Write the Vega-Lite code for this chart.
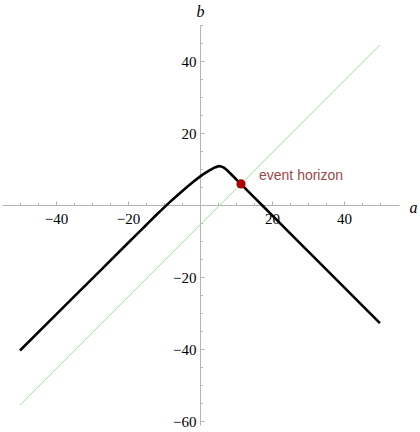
{
  "$schema": "https://vega.github.io/schema/vega-lite/v6.json",
  "autosize": {"type": "none"},
  "padding": {"left": 2, "top": 25, "right": 21, "bottom": 7},
  "width": 397,
  "height": 400,
  "background": "white",
  "config": {
    "view": {"stroke": null},
    "axis": {"grid": false, "domainColor": "#b4b4b4", "tickColor": "#b4b4b4", "domainWidth": 1, "tickWidth": 1}
  },
  "datasets": {
    "curve": [
      {"a": -50, "b": -40.4}, {"a": -40, "b": -30.45}, {"a": -30, "b": -20.5},
      {"a": -20, "b": -10.56}, {"a": -15, "b": -5.61}, {"a": -12, "b": -2.64},
      {"a": -10, "b": -0.72}, {"a": -8, "b": 1.14}, {"a": -6, "b": 2.94},
      {"a": -4, "b": 4.68}, {"a": -2, "b": 6.34}, {"a": 0, "b": 7.9},
      {"a": 1.5, "b": 8.92}, {"a": 3, "b": 9.82}, {"a": 4.3, "b": 10.47},
      {"a": 5.3, "b": 10.8}, {"a": 5.9, "b": 10.72}, {"a": 6.5, "b": 10.45},
      {"a": 7.2, "b": 9.95}, {"a": 8, "b": 9.2}, {"a": 9, "b": 8.2},
      {"a": 10, "b": 7.2}, {"a": 11.4, "b": 5.8}, {"a": 13, "b": 4.2},
      {"a": 15, "b": 2.2}, {"a": 20, "b": -2.8}, {"a": 30, "b": -12.8},
      {"a": 40, "b": -22.8}, {"a": 50, "b": -32.8}
    ],
    "horizon": [{"a": -50, "b": -55.55}, {"a": 50, "b": 44.45}],
    "event": [{"a": 11.4, "b": 5.85, "label": "event horizon"}]
  },
  "resolve": {"axis": {"x": "independent", "y": "independent"}},
  "layer": [
    {
      "data": {"name": "horizon"},
      "mark": {"type": "line", "color": "#9aee9a", "strokeWidth": 1},
      "encoding": {
        "x": {
          "field": "a", "type": "quantitative",
          "scale": {"domain": [-55, 55.3], "nice": false, "zero": false},
          "axis": {
            "orient": "bottom", "offset": -220, "values": [-40, -20, 20, 40],
            "ticks": false, "domain": true, "labelPadding": 6,
            "labelFont": "Liberation Serif", "labelFontSize": 15, "labelColor": "black",
            "title": "a", "titleFont": "Liberation Serif", "titleFontStyle": "italic", "titleFontWeight": "normal",
            "titleFontSize": 16, "titleColor": "black", "titleX": 411, "titleY": 7,
            "titleAlign": "center", "titleBaseline": "alphabetic", "titleAngle": 0
          }
        },
        "y": {
          "field": "b", "type": "quantitative",
          "scale": {"domain": [-61.1, 50], "nice": false, "zero": false},
          "axis": {
            "orient": "left", "offset": -198, "values": [-60, -40, -20, 20, 40],
            "ticks": false, "domain": true, "labelPadding": 4,
            "labelFont": "Liberation Serif", "labelFontSize": 15, "labelColor": "black",
            "title": "b", "titleFont": "Liberation Serif", "titleFontStyle": "italic", "titleFontWeight": "normal",
            "titleFontSize": 16, "titleColor": "black", "titleX": 0, "titleY": -9,
            "titleAlign": "center", "titleBaseline": "alphabetic", "titleAngle": 0
          }
        }
      }
    },
    {
      "data": {"name": "curve"},
      "mark": {"type": "line", "color": "black", "strokeWidth": 2.6, "interpolate": "monotone"},
      "encoding": {
        "x": {
          "field": "a", "type": "quantitative",
          "scale": {"domain": [-55, 55.3], "nice": false, "zero": false},
          "axis": {
            "orient": "top", "offset": -180,
            "values": [-50, -45, -40, -35, -30, -25, -20, -15, -10, -5, 5, 10, 15, 20, 25, 30, 35, 40, 45, 50],
            "labels": false, "domain": false, "title": null,
            "tickSize": {"condition": {"test": "abs(datum.value) % 20 === 0", "value": 4}, "value": 2.5}
          }
        },
        "y": {
          "field": "b", "type": "quantitative",
          "scale": {"domain": [-61.1, 50], "nice": false, "zero": false},
          "axis": {
            "orient": "right", "offset": -199,
            "values": [-60, -55, -50, -45, -40, -35, -30, -25, -20, -15, -10, -5, 5, 10, 15, 20, 25, 30, 35, 40, 45, 50],
            "labels": false, "domain": false, "title": null,
            "tickSize": {"condition": {"test": "abs(datum.value) % 20 === 0", "value": 4}, "value": 2.5}
          }
        }
      }
    },
    {
      "data": {"name": "event"},
      "mark": {"type": "point", "filled": true, "color": "#ad0000", "opacity": 1, "size": 85},
      "encoding": {
        "x": {"field": "a", "type": "quantitative", "scale": {"domain": [-55, 55.3], "nice": false, "zero": false}, "axis": null},
        "y": {"field": "b", "type": "quantitative", "scale": {"domain": [-61.1, 50], "nice": false, "zero": false}, "axis": null}
      }
    },
    {
      "data": {"name": "event"},
      "mark": {"type": "text", "align": "left", "baseline": "alphabetic", "dx": 18, "dy": -4, "font": "Liberation Sans", "fontSize": 14, "color": "#984a4a"},
      "encoding": {
        "x": {"field": "a", "type": "quantitative", "scale": {"domain": [-55, 55.3], "nice": false, "zero": false}, "axis": null},
        "y": {"field": "b", "type": "quantitative", "scale": {"domain": [-61.1, 50], "nice": false, "zero": false}, "axis": null},
        "text": {"field": "label"}
      }
    }
  ]
}
